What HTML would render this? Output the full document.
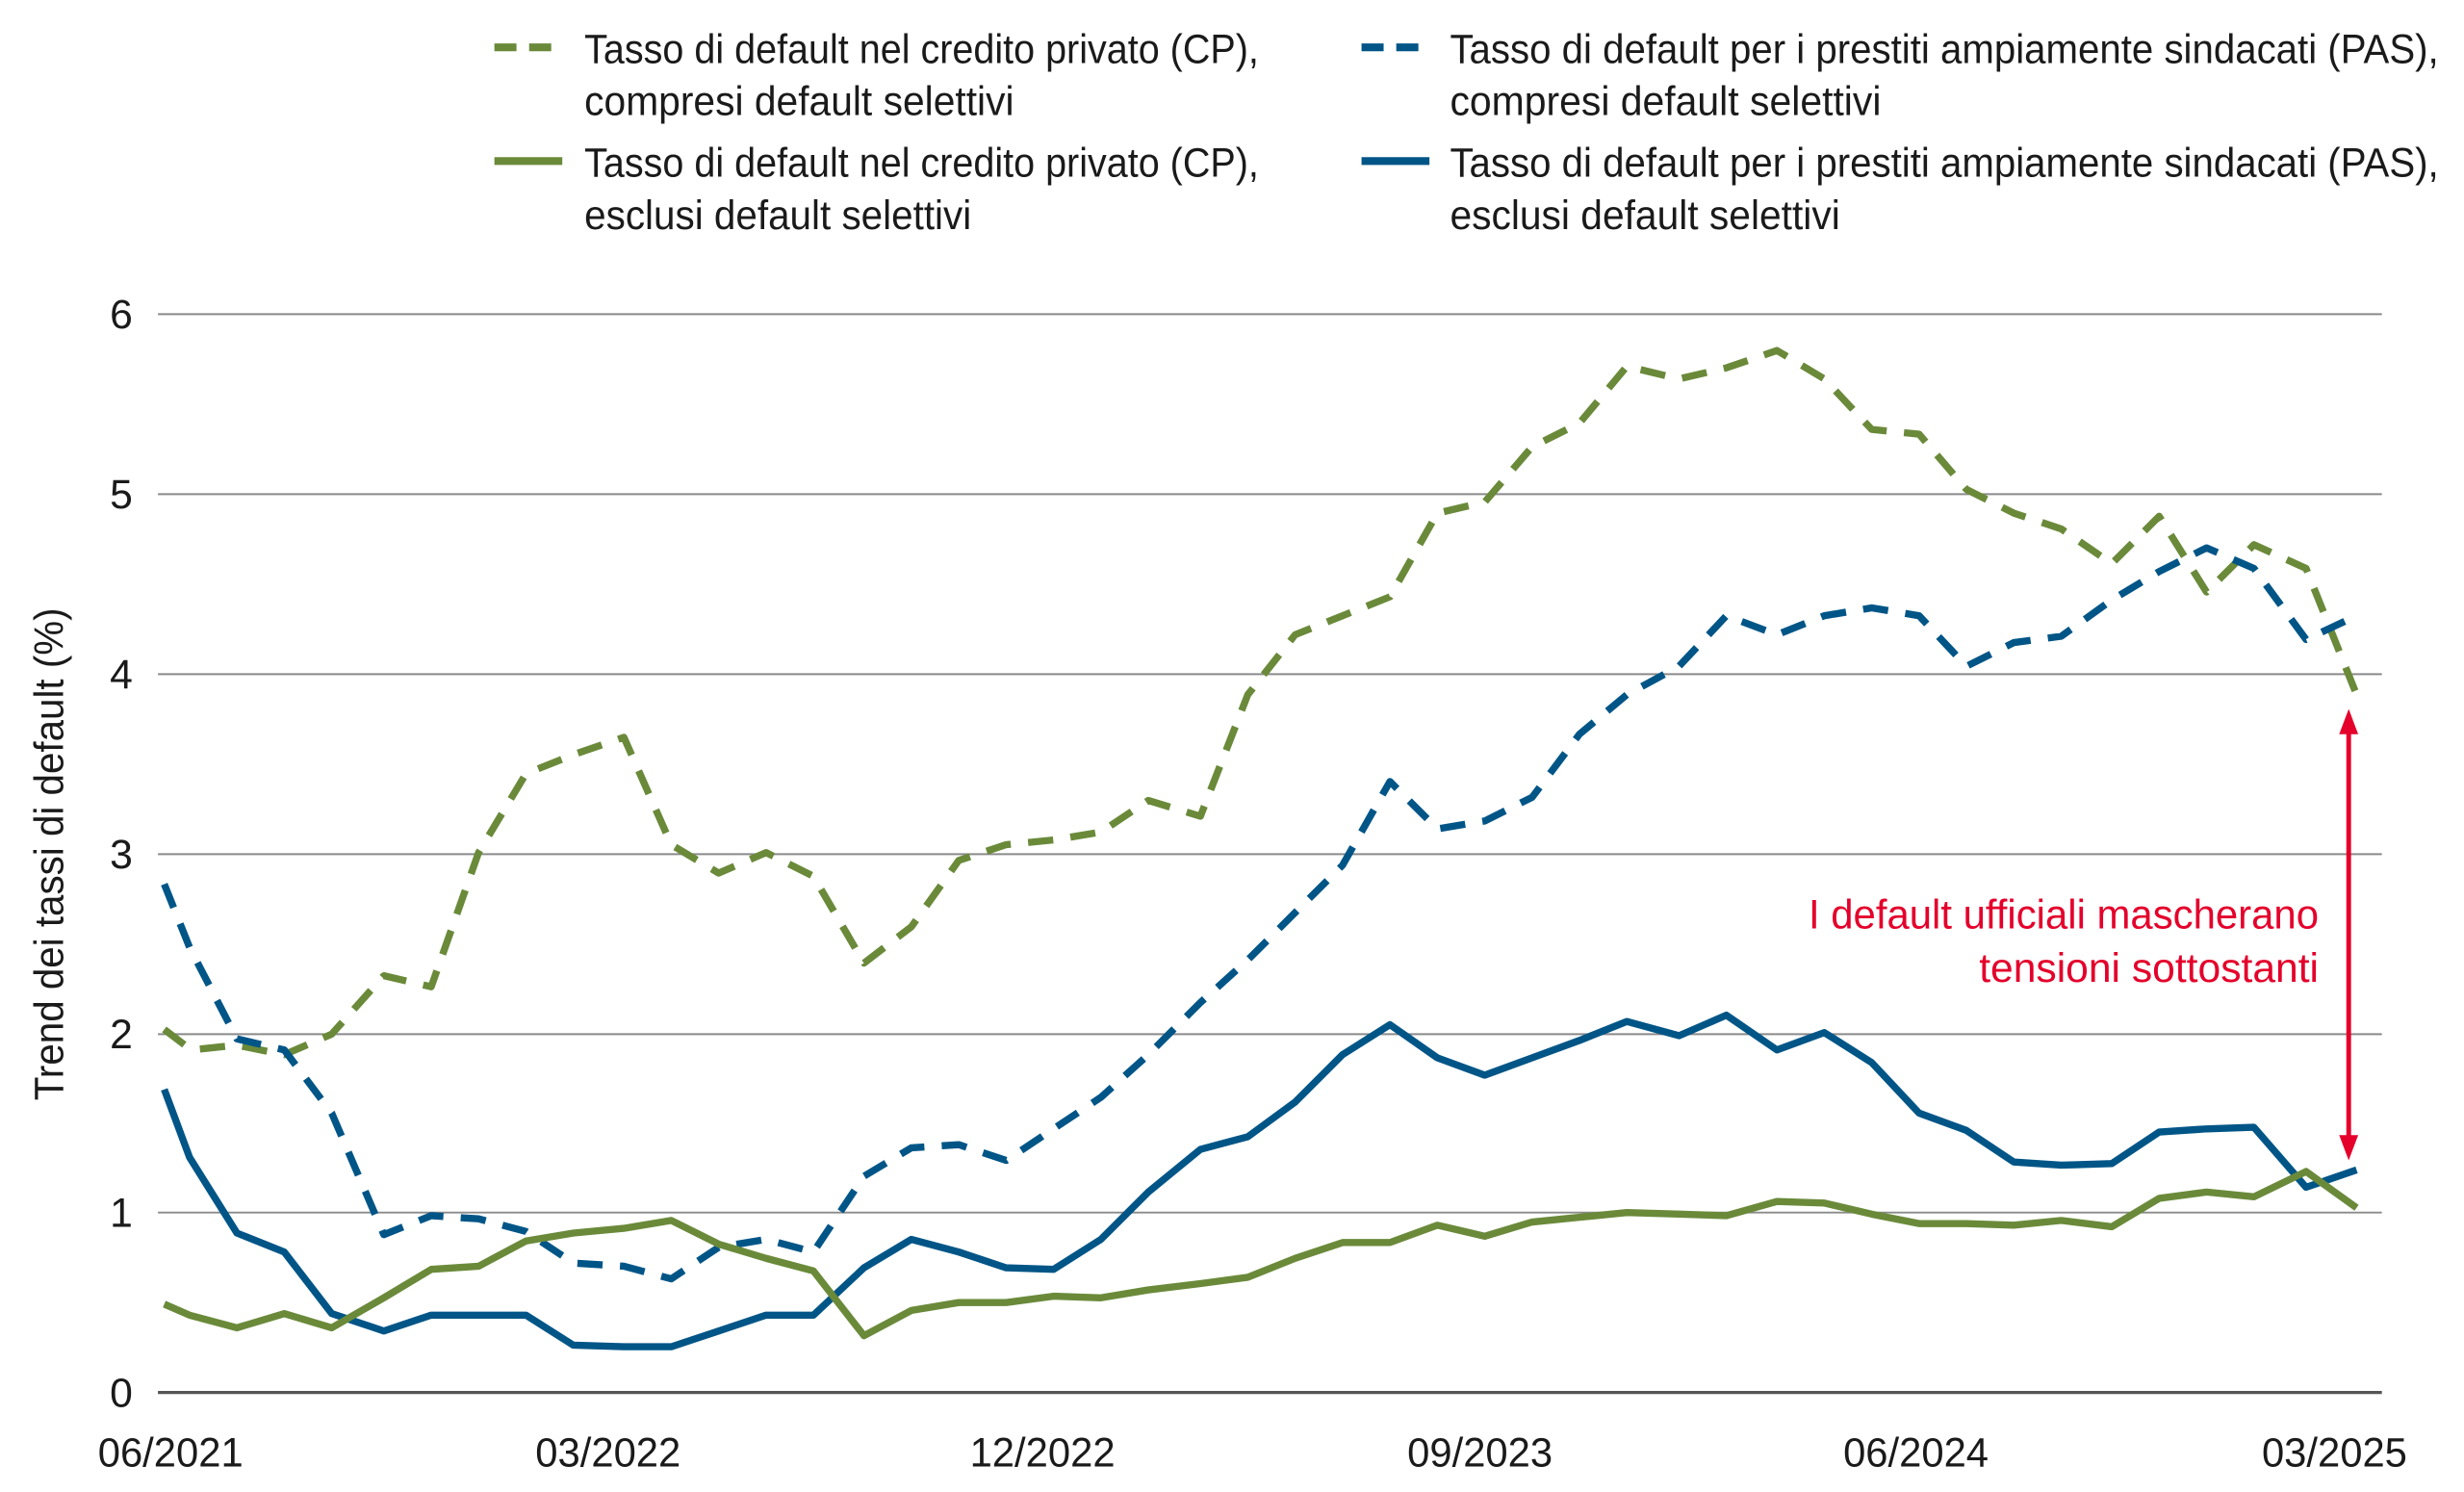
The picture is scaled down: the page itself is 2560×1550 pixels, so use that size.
<!DOCTYPE html>
<html><head><meta charset="utf-8"><style>
html,body{margin:0;padding:0;background:#fff;}
svg{display:block;}
text{font-family:"Liberation Sans Narrow","Liberation Sans",sans-serif;fill:#1a1a1a;}
</style></head><body>
<svg width="2560" height="1550" viewBox="0 0 1560 945" preserveAspectRatio="none" xmlns="http://www.w3.org/2000/svg">
<g stroke="#8a8a8a" stroke-width="1.2">
<line x1="100" y1="199" x2="1508" y2="199"/>
<line x1="100" y1="313" x2="1508" y2="313"/>
<line x1="100" y1="427" x2="1508" y2="427"/>
<line x1="100" y1="541" x2="1508" y2="541"/>
<line x1="100" y1="655" x2="1508" y2="655"/>
<line x1="100" y1="768" x2="1508" y2="768"/>
</g>
<line x1="100" y1="882" x2="1508" y2="882" stroke="#555" stroke-width="2"/>
<g font-size="26" text-anchor="end">
<text x="84" y="208">6</text><text x="84" y="322">5</text><text x="84" y="436">4</text>
<text x="84" y="550">3</text><text x="84" y="664">2</text><text x="84" y="777">1</text><text x="84" y="891">0</text>
</g>
<g font-size="26" text-anchor="middle">
<text x="108" y="929" textLength="92" lengthAdjust="spacingAndGlyphs">06/2021</text>
<text x="385" y="929" textLength="92" lengthAdjust="spacingAndGlyphs">03/2022</text>
<text x="660" y="929" textLength="92" lengthAdjust="spacingAndGlyphs">12/2022</text>
<text x="937" y="929" textLength="92" lengthAdjust="spacingAndGlyphs">09/2023</text>
<text x="1213" y="929" textLength="92" lengthAdjust="spacingAndGlyphs">06/2024</text>
<text x="1478" y="929" textLength="92" lengthAdjust="spacingAndGlyphs">03/2025</text>
</g>
<text font-size="26" text-anchor="middle" textLength="312" lengthAdjust="spacingAndGlyphs" transform="translate(40,541) rotate(-90)">Trend dei tassi di default (%)</text>
<g fill="none" stroke-width="4.5" stroke-linejoin="round">
<polyline stroke="#6a8a3a" stroke-dasharray="16,11" points="104,652 121,665 150,662 180,668 210,655 243,618 273,625 303,540 333,490 363,478 395,467 425,535 455,553 485,540 515,555 547,610 577,587 607,545 637,535 667,532 697,527 727,507 760,517 790,440 820,402 850,390 880,378 910,325 940,318 970,283 1000,268 1030,232 1063,240 1093,233 1125,222 1155,240 1185,272 1215,275 1245,310 1275,325 1305,335 1337,357 1367,327 1397,375 1427,345 1460,360 1492,440"/>
<polyline stroke="#005587" stroke-dasharray="16,11" points="104,560 120,600 150,658 180,665 210,705 243,782 273,770 303,772 333,780 363,800 395,802 425,810 455,790 485,785 515,793 547,745 577,727 607,725 637,735 667,715 697,695 727,668 760,635 790,608 820,578 850,548 880,495 910,525 940,520 970,505 1000,465 1030,440 1063,422 1093,390 1125,402 1155,390 1185,385 1215,390 1245,422 1275,407 1305,403 1337,380 1367,362 1397,347 1427,360 1460,405 1492,390"/>
<polyline stroke="#005587" points="104,690 120,733 150,781 180,793 210,832 243,843 273,833 303,833 333,833 363,852 395,853 425,853 455,843 485,833 515,833 547,803 577,785 607,793 637,803 667,804 697,785 727,755 760,728 790,720 820,698 850,668 880,649 910,670 940,681 970,670 1000,659 1030,647 1063,656 1093,643 1125,665 1155,654 1185,673 1215,705 1245,716 1275,736 1305,738 1337,737 1367,717 1397,715 1427,714 1460,752 1492,741"/>
<polyline stroke="#6a8a3a" points="104,826 120,833 150,841 180,832 210,841 243,822 273,804 303,802 333,786 363,781 395,778 425,773 455,788 485,797 515,805 547,846 577,830 607,825 637,825 667,821 697,822 727,817 760,813 790,809 820,797 850,787 880,787 910,776 940,783 970,774 1000,771 1030,768 1063,769 1093,770 1125,761 1155,762 1185,769 1215,775 1245,775 1275,776 1305,773 1337,777 1367,759 1397,755 1427,758 1460,742 1492,765"/>
</g>
<line x1="1487" y1="462" x2="1487" y2="722" stroke="#e4002b" stroke-width="3"/>
<polygon points="1487,449 1481,465 1493,465" fill="#e4002b"/>
<polygon points="1487,735 1481,719 1493,719" fill="#e4002b"/>
<g font-size="26" text-anchor="end">
<text x="1468" y="588" textLength="323" lengthAdjust="spacingAndGlyphs" style="fill:#e4002b">I default ufficiali mascherano</text>
<text x="1468" y="622" textLength="215" lengthAdjust="spacingAndGlyphs" style="fill:#e4002b">tensioni sottostanti</text>
</g>
<g stroke-width="5" fill="none">
<line x1="313" y1="30" x2="356" y2="30" stroke="#6a8a3a" stroke-dasharray="14,8"/>
<line x1="313" y1="102" x2="356" y2="102" stroke="#6a8a3a"/>
<line x1="862" y1="30" x2="905" y2="30" stroke="#005587" stroke-dasharray="14,8"/>
<line x1="862" y1="102" x2="905" y2="102" stroke="#005587"/>
</g>
<g font-size="26">
<text x="370" y="40" textLength="427" lengthAdjust="spacingAndGlyphs">Tasso di default nel credito privato (CP),</text>
<text x="370" y="73" textLength="272" lengthAdjust="spacingAndGlyphs">compresi default selettivi</text>
<text x="370" y="112" textLength="427" lengthAdjust="spacingAndGlyphs">Tasso di default nel credito privato (CP),</text>
<text x="370" y="145" textLength="245" lengthAdjust="spacingAndGlyphs">esclusi default selettivi</text>
<text x="918" y="40" textLength="626" lengthAdjust="spacingAndGlyphs">Tasso di default per i prestiti ampiamente sindacati (PAS),</text>
<text x="918" y="73" textLength="273" lengthAdjust="spacingAndGlyphs">compresi default selettivi</text>
<text x="918" y="112" textLength="626" lengthAdjust="spacingAndGlyphs">Tasso di default per i prestiti ampiamente sindacati (PAS),</text>
<text x="918" y="145" textLength="247" lengthAdjust="spacingAndGlyphs">esclusi default selettivi</text>
</g>
</svg>
</body></html>
